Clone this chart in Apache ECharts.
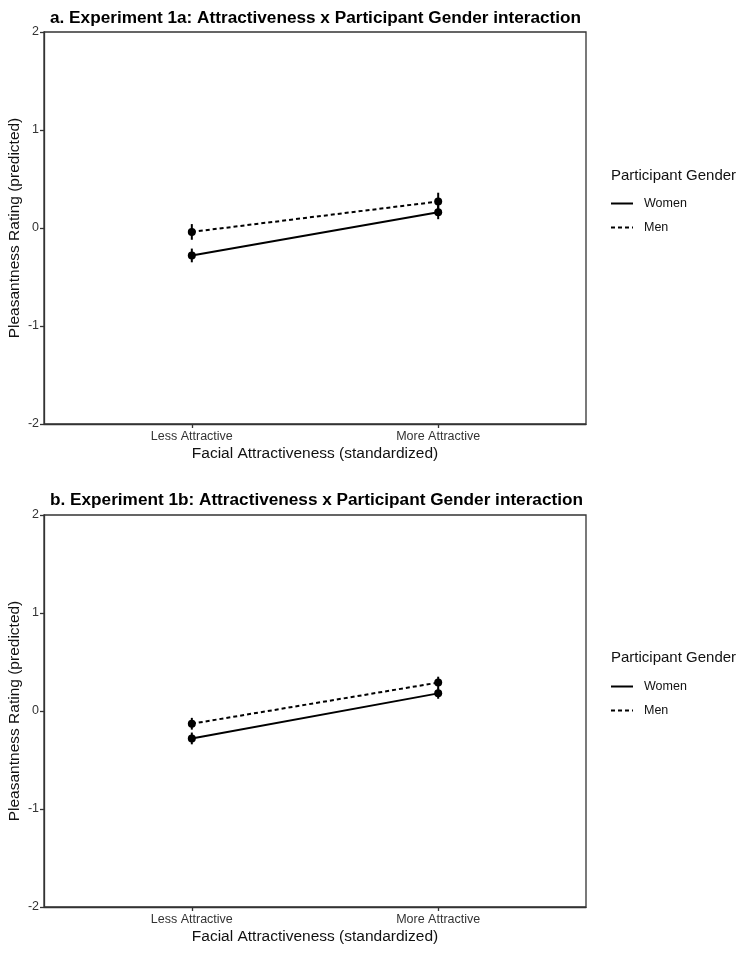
<!DOCTYPE html>
<html>
<head>
<meta charset="utf-8">
<script src="https://cdn.jsdelivr.net/npm/echarts@6/dist/echarts.min.js"></script>
<style>
html,body{margin:0;padding:0;background:#fff;}
#chart{width:749px;height:954px;}
</style>
</head>
<body>
<div id="chart"></div>
<script>
// ---- data ----
const categories = ["Less Attractive", "More Attractive"];
const yTicks = [-2, -1, 0, 1, 2];
const seriesNames = ["Women", "Men"];
// Panel a: Experiment 1a
const womenA = [-0.28, 0.16];
const menA = [-0.04, 0.27];
const womenA_err = [0.07, 0.07];
const menA_err = [0.08, 0.09];
// Panel b: Experiment 1b
const womenB = [-0.28, 0.18];
const menB = [-0.13, 0.29];
const womenB_err = [0.06, 0.055];
const menB_err = [0.06, 0.06];

const titles = [
  "a. Experiment 1a: Attractiveness x Participant Gender interaction",
  "b. Experiment 1b: Attractiveness x Participant Gender interaction"
];

const FONT = "Liberation Sans, Arial, Helvetica, sans-serif";
const chart = echarts.init(document.getElementById('chart'));

const grids = [
  {left: 44, top: 32, width: 542, height: 392},
  {left: 44, top: 515, width: 542, height: 392}
];

function xAxisFor(i) {
  return {
    gridIndex: i, type: 'value', min: 0.4, max: 2.6,
    name: 'Facial Attractiveness (standardized)', nameLocation: 'middle', nameGap: 22,
    nameMoveOverlap: false,
    nameTextStyle: {fontFamily: FONT, fontSize: 15.5, color: '#111'},
    axisLine: {show: true, onZero: false, lineStyle: {color: '#333', width: 1.3}},
    axisTick: {show: true, customValues: [1, 2], length: 4, lineStyle: {color: '#333', width: 1.3}},
    axisLabel: {customValues: [1, 2], margin: 6, fontFamily: FONT, fontSize: 12.5, color: '#333',
      formatter: v => categories[Math.round(v) - 1] || ''},
    splitLine: {show: false}
  };
}
function yAxisFor(i) {
  return {
    gridIndex: i, type: 'value', min: -2, max: 2, interval: 1,
    name: 'Pleasantness Rating (predicted)', nameLocation: 'middle', nameGap: 21,
    nameMoveOverlap: false,
    nameTextStyle: {fontFamily: FONT, fontSize: 15.5, color: '#111'},
    axisLine: {show: true, onZero: false, lineStyle: {color: '#333', width: 1.3}},
    axisTick: {show: true, length: 4, lineStyle: {color: '#333', width: 1.3}},
    axisLabel: {margin: 5, fontFamily: FONT, fontSize: 12.5, color: '#333',
      customValues: yTicks},
    splitLine: {show: false}
  };
}

function lineSeries(name, vals, i, dashed) {
  return {
    name: name, type: 'line', xAxisIndex: i, yAxisIndex: i,
    data: vals.map((v, k) => [k + 1, v]),
    symbol: 'circle', symbolSize: 8,
    itemStyle: {color: '#000'},
    lineStyle: {color: '#000', width: 2, type: dashed ? [4, 3] : 'solid'},
    z: 3, silent: true
  };
}
function errSeries(name, vals, errs, i) {
  return {
    name: name, type: 'custom', xAxisIndex: i, yAxisIndex: i,
    data: vals.map((v, k) => [k + 1, v - errs[k], v + errs[k]]),
    renderItem: function (params, api) {
      const p1 = api.coord([api.value(0), api.value(1)]);
      const p2 = api.coord([api.value(0), api.value(2)]);
      return {type: 'line', shape: {x1: p1[0], y1: p1[1], x2: p2[0], y2: p2[1]},
        style: {stroke: '#000', lineWidth: 2}};
    },
    z: 2, silent: true
  };
}

const legendCommon = {
  orient: 'vertical', left: 605, itemWidth: 22, itemHeight: 10, itemGap: 11,
  data: seriesNames, selectedMode: false,
  itemStyle: {opacity: 0},
  textStyle: {fontFamily: FONT, fontSize: 12.5, color: '#111', padding: [0, 0, 0, 6]}
};

const option = {
  backgroundColor: '#fff',
  animation: false,
  title: [
    {text: titles[0], left: 45, top: 5, textStyle: {fontFamily: FONT, fontSize: 17.2, fontWeight: 'bold', color: '#000'}},
    {text: titles[1], left: 45, top: 487, textStyle: {fontFamily: FONT, fontSize: 17.2, fontWeight: 'bold', color: '#000'}},
    {text: 'Participant Gender', left: 606, top: 163, textStyle: {fontFamily: FONT, fontSize: 15, fontWeight: 'normal', color: '#111'}},
    {text: 'Participant Gender', left: 606, top: 645, textStyle: {fontFamily: FONT, fontSize: 15, fontWeight: 'normal', color: '#111'}}
  ],
  legend: [
    Object.assign({top: 192}, legendCommon),
    Object.assign({top: 675}, legendCommon)
  ],
  grid: grids.map(g => Object.assign({show: true, borderColor: '#333', borderWidth: 1.3, backgroundColor: '#fff', outerBoundsMode: 'none', containLabel: false}, g)),
  xAxis: [xAxisFor(0), xAxisFor(1)],
  yAxis: [yAxisFor(0), yAxisFor(1)],
  series: [
    lineSeries('Women', womenA, 0, false),
    lineSeries('Men', menA, 0, true),
    errSeries('Women', womenA, womenA_err, 0),
    errSeries('Men', menA, menA_err, 0),
    lineSeries('Women', womenB, 1, false),
    lineSeries('Men', menB, 1, true),
    errSeries('Women', womenB, womenB_err, 1),
    errSeries('Men', menB, menB_err, 1)
  ]
};
chart.setOption(option);
</script>
</body>
</html>
